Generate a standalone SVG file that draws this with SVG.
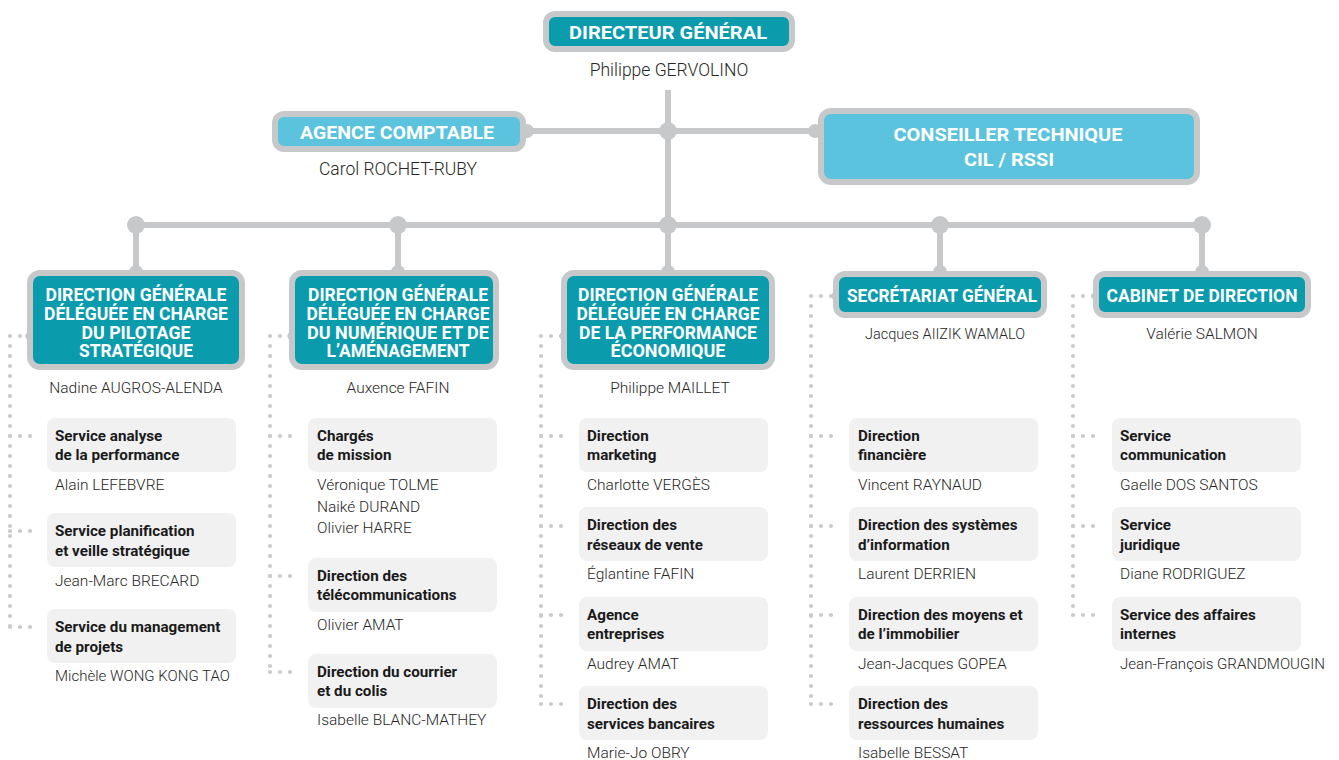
<svg xmlns="http://www.w3.org/2000/svg" width="1339" height="760" viewBox="0 0 1339 760">
<style>
.bg{fill:#ffffff}
.ln{stroke:#c6c8ca;stroke-width:6;fill:none}
.jd{fill:#c6c8ca}
.dot{stroke:#c9cbcd;stroke-width:4.2;stroke-linecap:round;stroke-dasharray:0 10;fill:none}
.hd{fill:#0a9bad;stroke:#c6c8ca;stroke-width:6}
.hl{fill:#5bc3dd;stroke:#c6c8ca;stroke-width:6}
.sb{fill:#f1f1f2}
.ht{font-family:Roboto,"Liberation Sans",sans-serif;font-weight:700;fill:#ffffff;text-anchor:middle}
.h19{font-size:19px}
.h17{font-size:17.5px}
.nm{font-family:Roboto,"Liberation Sans",sans-serif;font-weight:300;font-size:15.5px;fill:#262626}
.nt{font-size:17.5px}
.nc{text-anchor:middle}
.st{font-family:Roboto,"Liberation Sans",sans-serif;font-weight:700;font-size:15.2px;fill:#1a1a1a}
</style>
<rect class="bg" x="0" y="0" width="1339" height="760"/>

<g id="connectors">
  <line class="ln" x1="668" y1="90" x2="668" y2="225"/>
  <line class="ln" x1="527" y1="131" x2="815" y2="131"/>
  <line class="ln" x1="136" y1="225" x2="1202" y2="225"/>
  <line class="ln" x1="136" y1="225" x2="136" y2="272"/>
  <line class="ln" x1="398" y1="225" x2="398" y2="272"/>
  <line class="ln" x1="668" y1="225" x2="668" y2="272"/>
  <line class="ln" x1="940" y1="225" x2="940" y2="272"/>
  <line class="ln" x1="1202" y1="225" x2="1202" y2="272"/>
  <circle class="jd" cx="668" cy="131" r="9"/>
  <circle class="jd" cx="527" cy="131" r="7"/>
  <circle class="jd" cx="815" cy="131" r="7"/>
  <circle class="jd" cx="136" cy="225" r="9"/>
  <circle class="jd" cx="398" cy="225" r="9"/>
  <circle class="jd" cx="668" cy="225" r="9"/>
  <circle class="jd" cx="940" cy="225" r="9"/>
  <circle class="jd" cx="1202" cy="225" r="9"/>
  <circle class="jd" cx="136" cy="272" r="7"/>
  <circle class="jd" cx="398" cy="272" r="7"/>
  <circle class="jd" cx="668" cy="272" r="7"/>
  <circle class="jd" cx="940" cy="272" r="7"/>
  <circle class="jd" cx="1202" cy="272" r="7"/>

  <!-- column 1 dotted -->
  <line class="dot" x1="30" y1="336" x2="10" y2="336"/>
  <line class="dot" x1="10" y1="336" x2="10" y2="627"/>
  <line class="dot" x1="10" y1="436" x2="40" y2="436"/>
  <line class="dot" x1="10" y1="531" x2="40" y2="531"/>
  <line class="dot" x1="10" y1="627" x2="40" y2="627"/>
  <circle class="jd" cx="29" cy="336" r="3.6"/>
  <!-- column 2 dotted -->
  <line class="dot" x1="290" y1="336" x2="270" y2="336"/>
  <line class="dot" x1="270" y1="336" x2="270" y2="672"/>
  <line class="dot" x1="270" y1="436" x2="300" y2="436"/>
  <line class="dot" x1="270" y1="576" x2="300" y2="576"/>
  <line class="dot" x1="270" y1="672" x2="300" y2="672"/>
  <circle class="jd" cx="291" cy="336" r="3.6"/>
  <!-- column 3 dotted -->
  <line class="dot" x1="561" y1="336" x2="541" y2="336"/>
  <line class="dot" x1="541" y1="336" x2="541" y2="704"/>
  <line class="dot" x1="541" y1="436" x2="571" y2="436"/>
  <line class="dot" x1="541" y1="526" x2="571" y2="526"/>
  <line class="dot" x1="541" y1="615" x2="571" y2="615"/>
  <line class="dot" x1="541" y1="704" x2="571" y2="704"/>
  <circle class="jd" cx="563" cy="336" r="3.6"/>
  <!-- column 4 dotted -->
  <line class="dot" x1="831" y1="296" x2="811" y2="296"/>
  <line class="dot" x1="811" y1="296" x2="811" y2="704"/>
  <line class="dot" x1="811" y1="436" x2="841" y2="436"/>
  <line class="dot" x1="811" y1="526" x2="841" y2="526"/>
  <line class="dot" x1="811" y1="615" x2="841" y2="615"/>
  <line class="dot" x1="811" y1="704" x2="841" y2="704"/>
  <circle class="jd" cx="835" cy="296" r="3.6"/>
  <!-- column 5 dotted -->
  <line class="dot" x1="1093" y1="296" x2="1073" y2="296"/>
  <line class="dot" x1="1073" y1="296" x2="1073" y2="615"/>
  <line class="dot" x1="1073" y1="436" x2="1103" y2="436"/>
  <line class="dot" x1="1073" y1="526" x2="1103" y2="526"/>
  <line class="dot" x1="1073" y1="615" x2="1103" y2="615"/>
  <circle class="jd" cx="1095" cy="296" r="3.6"/>
</g>

<g id="directeur-general">
  <rect class="hd" x="546" y="14" width="246" height="35" rx="9"/>
  <text class="ht h19" x="668" y="39" textLength="198" lengthAdjust="spacingAndGlyphs">DIRECTEUR GÉNÉRAL</text>
  <text class="nm nt nc" x="669" y="76">Philippe GERVOLINO</text>
</g>

<g id="agence-comptable">
  <rect class="hl" x="275" y="114" width="248" height="35" rx="9"/>
  <text class="ht h19" x="397" y="139" textLength="194" lengthAdjust="spacingAndGlyphs">AGENCE COMPTABLE</text>
  <text class="nm nt nc" x="398" y="175">Carol ROCHET-RUBY</text>
</g>

<g id="conseiller-technique">
  <rect class="hl" x="821" y="111" width="376" height="71" rx="10"/>
  <text class="ht h19" x="1008" y="141" textLength="229" lengthAdjust="spacingAndGlyphs">CONSEILLER TECHNIQUE</text>
  <text class="ht h19" x="1009" y="166" textLength="90" lengthAdjust="spacingAndGlyphs">CIL / RSSI</text>
</g>

<g id="dg-pilotage">
  <rect class="hd" x="30" y="273" width="212" height="94" rx="10"/>
  <text class="ht h17" x="136" y="301" textLength="181" lengthAdjust="spacingAndGlyphs">DIRECTION GÉNÉRALE</text>
  <text class="ht h17" x="136" y="320" textLength="184" lengthAdjust="spacingAndGlyphs">DÉLÉGUÉE EN CHARGE</text>
  <text class="ht h17" x="136" y="339" textLength="109" lengthAdjust="spacingAndGlyphs">DU PILOTAGE</text>
  <text class="ht h17" x="136" y="357" textLength="114" lengthAdjust="spacingAndGlyphs">STRATÉGIQUE</text>
  <text class="nm nc" x="136" y="393">Nadine AUGROS-ALENDA</text>
</g>

<g id="dg-numerique">
  <rect class="hd" x="292" y="273" width="204" height="94" rx="10"/>
  <text class="ht h17" x="398" y="301" textLength="180" lengthAdjust="spacingAndGlyphs">DIRECTION GÉNÉRALE</text>
  <text class="ht h17" x="398" y="320" textLength="183" lengthAdjust="spacingAndGlyphs">DÉLÉGUÉE EN CHARGE</text>
  <text class="ht h17" x="398" y="339" textLength="182" lengthAdjust="spacingAndGlyphs">DU NUMÉRIQUE ET DE</text>
  <text class="ht h17" x="398" y="357" textLength="143" lengthAdjust="spacingAndGlyphs">L’AMÉNAGEMENT</text>
  <text class="nm nc" x="398" y="393">Auxence FAFIN</text>
</g>

<g id="dg-performance">
  <rect class="hd" x="564" y="273" width="208" height="94" rx="10"/>
  <text class="ht h17" x="668" y="301" textLength="180" lengthAdjust="spacingAndGlyphs">DIRECTION GÉNÉRALE</text>
  <text class="ht h17" x="668" y="320" textLength="183" lengthAdjust="spacingAndGlyphs">DÉLÉGUÉE EN CHARGE</text>
  <text class="ht h17" x="668" y="339" textLength="178" lengthAdjust="spacingAndGlyphs">DE LA PERFORMANCE</text>
  <text class="ht h17" x="668" y="357" textLength="115" lengthAdjust="spacingAndGlyphs">ÉCONOMIQUE</text>
  <text class="nm nc" x="670" y="393">Philippe MAILLET</text>
</g>

<g id="secretariat-general">
  <rect class="hd" x="836" y="274" width="208" height="41" rx="9"/>
  <text class="ht h17" x="942" y="302" textLength="190" lengthAdjust="spacingAndGlyphs">SECRÉTARIAT GÉNÉRAL</text>
  <text class="nm nc" x="945" y="339" textLength="160" lengthAdjust="spacingAndGlyphs">Jacques AIIZIK WAMALO</text>
</g>

<g id="cabinet-direction">
  <rect class="hd" x="1096" y="274" width="212" height="41" rx="9"/>
  <text class="ht h17" x="1202" y="302" textLength="191" lengthAdjust="spacingAndGlyphs">CABINET DE DIRECTION</text>
  <text class="nm nc" x="1202" y="339">Valérie SALMON</text>
</g>

<!-- column 1 services -->
<g id="svc-analyse">
  <rect class="sb" x="47" y="418" width="189" height="54" rx="8"/>
  <text class="st" x="55" y="441">Service analyse</text>
  <text class="st" x="55" y="460">de la performance</text>
  <text class="nm" x="55" y="490">Alain LEFEBVRE</text>
</g>
<g id="svc-planification">
  <rect class="sb" x="47" y="513" width="189" height="54" rx="8"/>
  <text class="st" x="55" y="536">Service planification</text>
  <text class="st" x="55" y="556">et veille stratégique</text>
  <text class="nm" x="55" y="586">Jean-Marc BRECARD</text>
</g>
<g id="svc-management">
  <rect class="sb" x="47" y="609" width="189" height="54" rx="8"/>
  <text class="st" x="55" y="632">Service du management</text>
  <text class="st" x="55" y="652">de projets</text>
  <text class="nm" x="55" y="681" textLength="175" lengthAdjust="spacingAndGlyphs">Michèle WONG KONG TAO</text>
</g>

<!-- column 2 services -->
<g id="charges-mission">
  <rect class="sb" x="308" y="418" width="189" height="54" rx="8"/>
  <text class="st" x="317" y="441">Chargés</text>
  <text class="st" x="317" y="460">de mission</text>
  <text class="nm" x="317" y="490">Véronique TOLME</text>
  <text class="nm" x="317" y="512">Naiké DURAND</text>
  <text class="nm" x="317" y="533">Olivier HARRE</text>
</g>
<g id="dir-telecom">
  <rect class="sb" x="308" y="558" width="189" height="54" rx="8"/>
  <text class="st" x="317" y="581">Direction des</text>
  <text class="st" x="317" y="600">télécommunications</text>
  <text class="nm" x="317" y="630">Olivier AMAT</text>
</g>
<g id="dir-courrier">
  <rect class="sb" x="308" y="654" width="189" height="54" rx="8"/>
  <text class="st" x="317" y="677">Direction du courrier</text>
  <text class="st" x="317" y="696">et du colis</text>
  <text class="nm" x="317" y="725">Isabelle BLANC-MATHEY</text>
</g>

<!-- column 3 services -->
<g id="dir-marketing">
  <rect class="sb" x="579" y="418" width="189" height="54" rx="8"/>
  <text class="st" x="587" y="441">Direction</text>
  <text class="st" x="587" y="460">marketing</text>
  <text class="nm" x="587" y="490">Charlotte VERGÈS</text>
</g>
<g id="dir-reseaux">
  <rect class="sb" x="579" y="507" width="189" height="54" rx="8"/>
  <text class="st" x="587" y="530">Direction des</text>
  <text class="st" x="587" y="550">réseaux de vente</text>
  <text class="nm" x="587" y="579">Églantine FAFIN</text>
</g>
<g id="agence-entreprises">
  <rect class="sb" x="579" y="597" width="189" height="54" rx="8"/>
  <text class="st" x="587" y="620">Agence</text>
  <text class="st" x="587" y="639">entreprises</text>
  <text class="nm" x="587" y="669">Audrey AMAT</text>
</g>
<g id="dir-bancaires">
  <rect class="sb" x="579" y="686" width="189" height="54" rx="8"/>
  <text class="st" x="587" y="709">Direction des</text>
  <text class="st" x="587" y="729">services bancaires</text>
  <text class="nm" x="587" y="758">Marie-Jo OBRY</text>
</g>

<!-- column 4 services -->
<g id="dir-financiere">
  <rect class="sb" x="849" y="418" width="189" height="54" rx="8"/>
  <text class="st" x="858" y="441">Direction</text>
  <text class="st" x="858" y="460">financière</text>
  <text class="nm" x="858" y="490">Vincent RAYNAUD</text>
</g>
<g id="dir-si">
  <rect class="sb" x="849" y="507" width="189" height="54" rx="8"/>
  <text class="st" x="858" y="530">Direction des systèmes</text>
  <text class="st" x="858" y="550">d’information</text>
  <text class="nm" x="858" y="579">Laurent DERRIEN</text>
</g>
<g id="dir-moyens">
  <rect class="sb" x="849" y="597" width="189" height="54" rx="8"/>
  <text class="st" x="858" y="620">Direction des moyens et</text>
  <text class="st" x="858" y="639">de l’immobilier</text>
  <text class="nm" x="858" y="669">Jean-Jacques GOPEA</text>
</g>
<g id="dir-rh">
  <rect class="sb" x="849" y="686" width="189" height="54" rx="8"/>
  <text class="st" x="858" y="709">Direction des</text>
  <text class="st" x="858" y="729">ressources humaines</text>
  <text class="nm" x="858" y="758">Isabelle BESSAT</text>
</g>

<!-- column 5 services -->
<g id="svc-communication">
  <rect class="sb" x="1112" y="418" width="189" height="54" rx="8"/>
  <text class="st" x="1120" y="441">Service</text>
  <text class="st" x="1120" y="460">communication</text>
  <text class="nm" x="1120" y="490">Gaelle DOS SANTOS</text>
</g>
<g id="svc-juridique">
  <rect class="sb" x="1112" y="507" width="189" height="54" rx="8"/>
  <text class="st" x="1120" y="530">Service</text>
  <text class="st" x="1120" y="550">juridique</text>
  <text class="nm" x="1120" y="579">Diane RODRIGUEZ</text>
</g>
<g id="svc-affaires-internes">
  <rect class="sb" x="1112" y="597" width="189" height="54" rx="8"/>
  <text class="st" x="1120" y="620">Service des affaires</text>
  <text class="st" x="1120" y="639">internes</text>
  <text class="nm" x="1120" y="669" textLength="205" lengthAdjust="spacingAndGlyphs">Jean-François GRANDMOUGIN</text>
</g>
</svg>
